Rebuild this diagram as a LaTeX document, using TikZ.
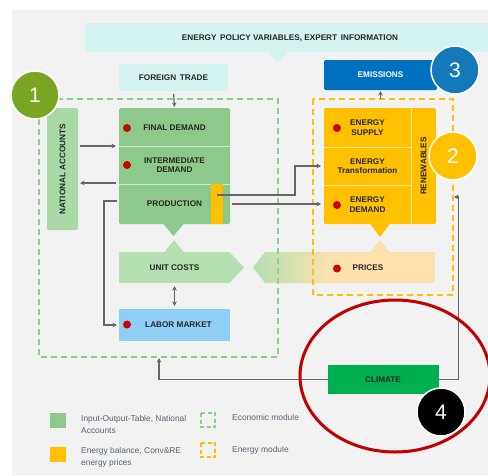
\documentclass[tikz,border=0pt]{standalone}
\usepackage{fontspec}
\setmainfont{Liberation Sans}
\usetikzlibrary{arrows.meta,calc}
\definecolor{bggray}{HTML}{F2F2F2}
\definecolor{banner}{HTML}{D4F3F1}
\definecolor{iogreen}{HTML}{8CC98A}
\definecolor{nagreen}{HTML}{A9D9A6}
\definecolor{ucgreen}{HTML}{B5DFB1}
\definecolor{energy}{HTML}{FFC000}
\definecolor{priceor}{HTML}{FDE2AD}
\definecolor{labblue}{HTML}{8FCFF5}
\definecolor{emisblue}{HTML}{0070C0}
\definecolor{c3blue}{HTML}{1379B8}
\definecolor{c1green}{HTML}{7AA522}
\definecolor{climgreen}{HTML}{00B050}
\definecolor{dotred}{HTML}{CC0000}
\definecolor{ellred}{HTML}{C00000}
\definecolor{arrgray}{HTML}{666666}
\definecolor{dashgreen}{HTML}{8FD18C}
\definecolor{legtext}{HTML}{5A6470}
\begin{document}
\begin{tikzpicture}[x=1pt,y=-1pt,
  box/.style={inner sep=0pt, outer sep=0pt, rounded corners=1.5pt, align=center,
    font=\fontsize{8.2}{9.5}\selectfont\bfseries, text=black!85},
  arr/.style={draw=arrgray, line width=1.2pt, -{Stealth[length=4.5pt,width=4.5pt]}},
  dbl/.style={draw=arrgray, line width=1.2pt, {Stealth[length=4.5pt,width=4.5pt]}-{Stealth[length=4.5pt,width=4.5pt]}},
  numc/.style={circle, minimum size=48pt, inner sep=0pt, draw=white, line width=1.5pt,
    text=white, font=\fontsize{21}{21}\selectfont},
  moddash/.style={line width=1.2pt, dash pattern=on 6pt off 4pt},
  reddot/.style={fill=dotred},
  legtxt/.style={anchor=north west, inner sep=0pt, align=left, text=legtext,
    font=\fontsize{8.4}{12.5}\selectfont}
]
\useasboundingbox (0,0) rectangle (488,475);
\fill[bggray] (12,10) rectangle (488,475);

% banner
\node[box, fill=banner, rounded corners=0pt, minimum width=403pt, minimum height=29pt] (policy) at (286.5,37.5) {};
\fill[banner] (268,52) -- (278,63) -- (288,52) -- cycle;
\node[box] (policytxt) at (290,38) {ENERGY\, POLICY VARIABLES, EXPERT\, INFORMATION};

% top boxes
\node[box, fill=banner, rounded corners=0pt, minimum width=109pt, minimum height=27pt] (trade) at (173.5,77.5) {FOREIGN\, TRADE};
\node[box, fill=emisblue, text=white, minimum width=113pt, minimum height=30pt] (emis) at (380.5,75) {EMISSIONS};

% national accounts
\node[box, fill=nagreen, minimum width=31pt, minimum height=122pt] (natacc) at (62.5,169) {};
\node[box, rotate=90] (natacctxt) at (62.5,169) {NATIONAL ACCOUNTS};

% IO block
\fill[iogreen, rounded corners=1.5pt] (119,108) rectangle (230,224);
\node[box, minimum width=111pt, minimum height=38.5pt] (fd) at (174.5,127.25) {FINAL DEMAND};
\node[box, minimum width=111pt, minimum height=37.5pt] (id) at (174.5,165.25) {INTERMEDIATE\\DEMAND};
\node[box, minimum width=111pt, minimum height=40pt] (prod) at (174.5,204) {PRODUCTION};
\draw[white!60!iogreen, line width=0.8pt] (119,146.5) -- (230,146.5);
\draw[white!60!iogreen, line width=0.8pt] (119,184) -- (230,184);
\node[box, fill=energy, rounded corners=0pt, minimum width=12pt, minimum height=40pt] (ystrip) at (217,204) {};
\fill[iogreen] (163,223.5) -- (173.5,236) -- (184,223.5) -- cycle;

% unit costs
\node[box, fill=ucgreen, rounded corners=0pt, minimum width=111pt, minimum height=31pt] (unit) at (174.5,267.5) {UNIT COSTS};
\fill[ucgreen] (229.5,252) -- (244,267.5) -- (229.5,283) -- cycle;
\fill[ucgreen] (164,252.5) -- (174,240) -- (184,252.5) -- cycle;

% labor market
\node[box, fill=labblue, rounded corners=0pt, minimum width=111pt, minimum height=32pt] (labor) at (174.5,325) {\hspace{8pt}LABOR MARKET};

% energy block
\fill[energy, rounded corners=1.5pt] (324,108) rectangle (436,224);
\node[box, minimum width=87pt, minimum height=39pt] (esup) at (367.5,127.5) {ENERGY\\SUPPLY};
\node[box, minimum width=87pt, minimum height=38pt] (etr) at (367.5,166) {ENERGY\\Transformation};
\node[box, minimum width=87pt, minimum height=39pt] (edem) at (367.5,204.5) {ENERGY\\DEMAND};
\node[box, minimum width=25pt, minimum height=116pt] (renew) at (423.5,166) {};
\node[box, rotate=90] (renewtxt) at (423.5,166) {RENEWABLES};
\draw[white!60!energy, line width=0.8pt] (324,147) -- (411,147);
\draw[white!60!energy, line width=0.8pt] (324,185) -- (411,185);
\draw[white!60!energy, line width=0.8pt] (411,108) -- (411,224);
\fill[energy] (370,223.5) -- (380,237) -- (390,223.5) -- cycle;

% prices
\node[box, fill=priceor, rounded corners=0pt, minimum width=170pt, minimum height=31pt] (prices) at (350,267.5) {};
\shade[left color=ucgreen, right color=priceor] (253,267.5) -- (265,252) -- (335,252) -- (335,283) -- (265,283) -- cycle;
\fill[priceor] (370,252.5) -- (380,240) -- (390,252.5) -- cycle;
\node[box] (pricestxt) at (368,268) {PRICES};

% red dots
\fill[reddot] (127,128) circle (4);
\fill[reddot] (127,165) circle (4);
\fill[reddot] (127,324.5) circle (4);
\fill[reddot] (337,128) circle (4);
\fill[reddot] (337,205) circle (4);
\fill[reddot] (337,268.5) circle (4);

% climate
\node[box, fill=climgreen, rounded corners=0pt, minimum width=111pt, minimum height=29pt] (climate) at (383,379.5) {CLIMATE};

% module borders
\draw[dashgreen, moddash] (39,99) rectangle (278,357);
\draw[energy, moddash] (313,99) rectangle (453,295);

% coordinates on module borders
\coordinate (na1) at (80,146);
\coordinate (na2) at (80,183);
\coordinate (ys) at (217,195);
\coordinate (emod) at (380.5,99);
\coordinate (emr) at (454,197);
\coordinate (ecb) at (159,358);

% connectors
\draw[arr, shorten <=3pt, shorten >=1pt] (trade.south) -- (fd.north);
\draw[arr, shorten >=3pt] (na1) -- (fd.west |- na1);
\draw[arr, shorten <=3pt] (id.west |- na2) -- (na2);
\draw[arr, shorten <=2pt, shorten >=2pt] (prod.west) ++(0,-3) -- ++(-15,0) |- (labor.west);
\draw[arr, shorten >=3pt] (ys) -- (295,195) |- (etr.west);
\draw[arr, shorten <=2pt, shorten >=3pt] (prod.east) -- (prod.east -| edem.west);
\draw[arr, shorten >=1pt] (emod) -- (emis.south);
\draw[dbl, shorten <=3pt, shorten >=3pt] (unit.south) -- (labor.north);
\draw[arr] (climate.east) -- ++(20,0) |- (emr);
\draw[arr] (climate.west) -| (ecb);

% red ellipse
\draw[ellred, line width=3pt] (395,376) ellipse [x radius=95, y radius=76];

% number circles
\node[numc, fill=c1green] (n1) at (35,95) {1};
\node[numc, fill=energy] (n2) at (453,156) {2};
\node[numc, fill=c3blue] (n3) at (455,70) {3};
\node[numc, fill=black] (n4) at (441,412) {4};

% legend
\fill[iogreen] (50,413) rectangle (66,428);
\node[legtxt] (leg1) at (81,415) {Input-Output-Table, National\\Accounts};
\fill[energy] (50,447) rectangle (66,462);
\node[legtxt] (leg2) at (81,447) {Energy balance, Conv\&RE\\energy prices};
\draw[dashgreen, line width=1.4pt, dash pattern=on 4pt off 2.5pt] (201,413) rectangle (215,427);
\node[legtxt] (leg3) at (232,414) {Economic module};
\draw[energy, line width=1.4pt, dash pattern=on 4pt off 2.5pt] (201,443) rectangle (215,457);
\node[legtxt] (leg4) at (232,446) {Energy module};
\end{tikzpicture}
\end{document}
